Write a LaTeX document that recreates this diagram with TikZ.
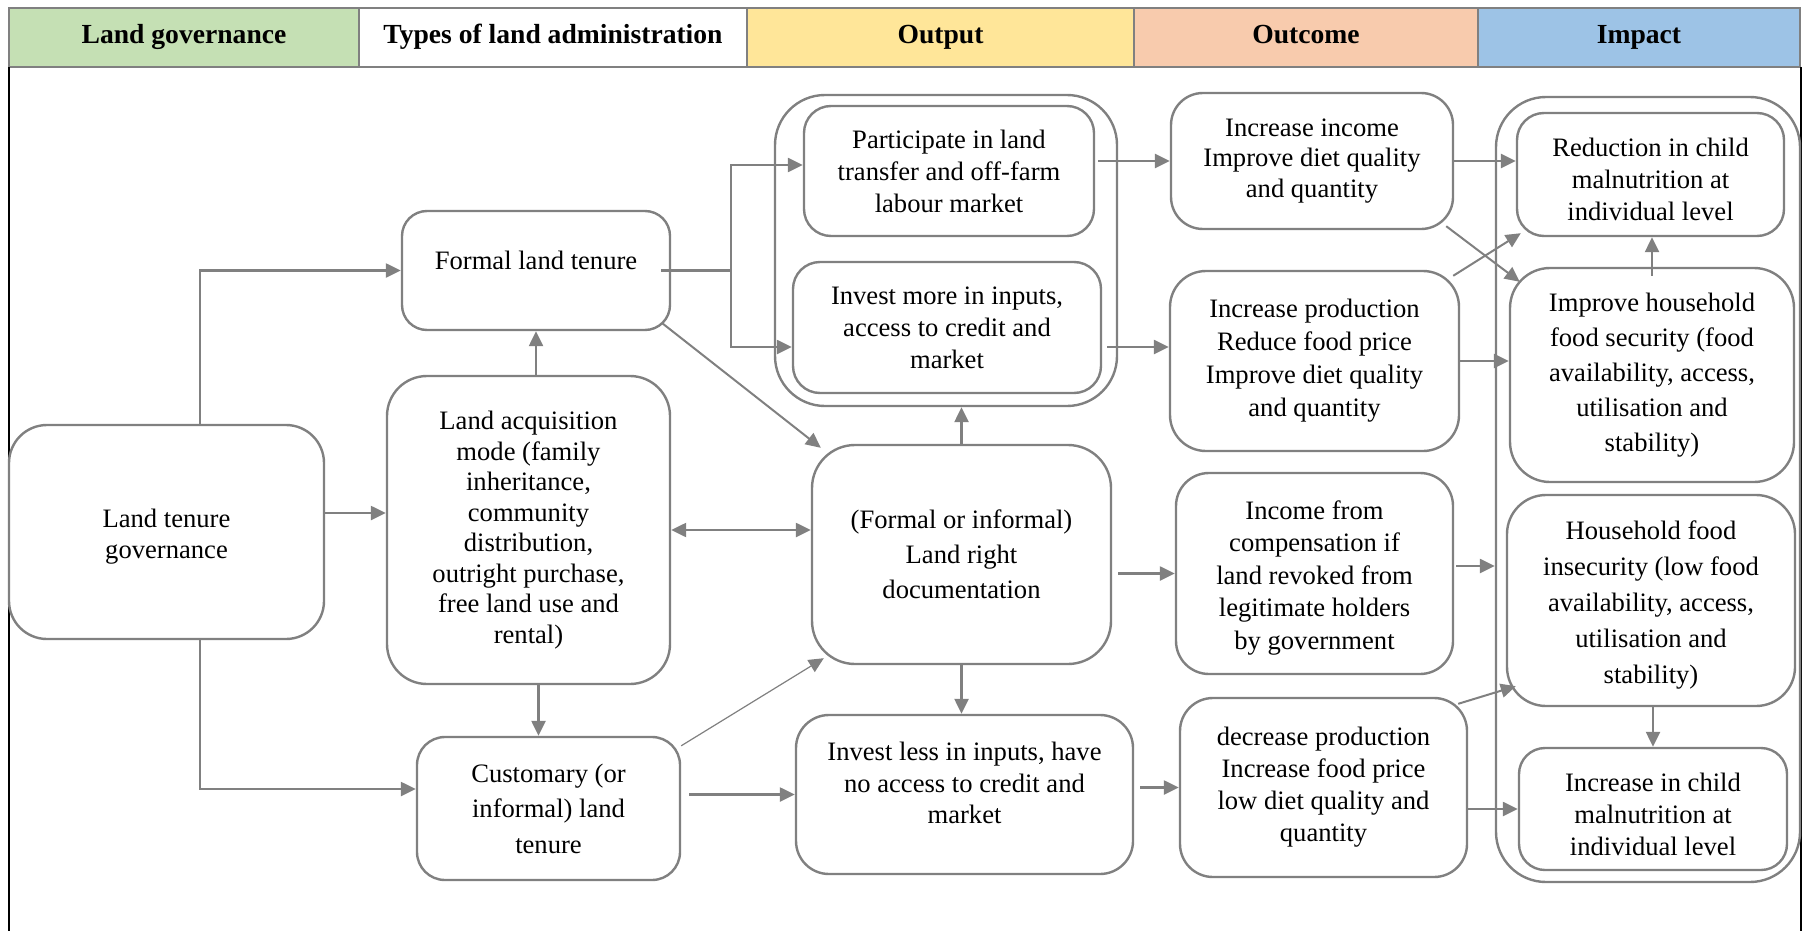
\documentclass[tikz,border=0pt]{standalone}
\usepackage{fontspec}
\setmainfont{Liberation Serif}
\usetikzlibrary{arrows.meta}
\definecolor{lineg}{HTML}{808080}
\definecolor{hdgreen}{HTML}{C5E0B4}
\definecolor{hdyellow}{HTML}{FFE699}
\definecolor{hdsalmon}{HTML}{F8CBAD}
\definecolor{hdblue}{HTML}{9DC3E6}
\tikzset{
  box/.style={draw=lineg, line width=1.2pt, rounded corners=14pt, align=center, inner sep=2pt, font=\fontsize{13.3}{16}\selectfont},
  grp/.style={draw=lineg, line width=1.2pt, rounded corners=25pt, inner sep=0pt},
  hd/.style={draw=black!50, line width=0.6pt, minimum height=29.5pt, inner sep=0pt, text height=9.5pt, text depth=3pt, font=\fontsize{13.8}{16}\selectfont\bfseries},
  arr/.style={draw=lineg, line width=1.2pt, ->},
  darr/.style={draw=lineg, line width=1.2pt, <->},
  link/.style={draw=lineg, line width=1.2pt},
}
\begin{document}
\begin{tikzpicture}[x=0.5pt, y=-0.5pt, >={Triangle[length=7.5pt,width=7pt]}]
        \useasboundingbox (0,0) rectangle (1803,931);
        \node[hd, fill=hdgreen, minimum width=175pt] (H1) at (184,37.5) {Land governance};
        \node[hd, fill=white, minimum width=194pt] (H2) at (553,37.5) {Types of land administration};
        \node[hd, fill=hdyellow, minimum width=193.5pt] (H3) at (940.5,37.5) {Output};
        \node[hd, fill=hdsalmon, minimum width=172pt] (H4) at (1306,37.5) {Outcome};
        \node[hd, fill=hdblue, minimum width=161pt] (H5) at (1639,37.5) {Impact};
        \draw[line width=1pt] (9,67) -- (9,931);
        \draw[line width=1pt] (1801,67) -- (1801,931);

        \node[grp, minimum width=171pt, minimum height=155.5pt] (OG) at (946,250.5) {};
        \node[grp, minimum width=152pt, minimum height=392.5pt] (IG) at (1648,489.5) {};

        \node[box, minimum width=157.5pt, minimum height=107pt, rounded corners=19pt, font=\fontsize{13.3}{15.2}\selectfont] (LT) at (166.5,532) {\mbox{}\\[-1.4pt]Land tenure\\governance};
        \node[box, minimum width=134pt, minimum height=59.5pt, rounded corners=12.5pt] (FT) at (536,270.5) {Formal land tenure\\[-5.5pt]\mbox{}};
        \node[box, minimum width=141.5pt, minimum height=154pt, rounded corners=20pt, font=\fontsize{13.3}{15.25}\selectfont] (AM) at (528.5,530) {Land acquisition\\mode (family\\inheritance,\\community\\distribution,\\outright purchase,\\free land use and\\rental)};
        \node[box, minimum width=131.5pt, minimum height=71.5pt, font=\fontsize{13.3}{17.75}\selectfont] (CT) at (548.5,808.5) {Customary (or\\informal) land\\tenure};

        \node[box, minimum width=145pt, minimum height=65pt, rounded corners=13.5pt] (PL) at (949,171) {Participate in land\\transfer and off-farm\\labour market};
        \node[box, minimum width=154pt, minimum height=65.5pt, rounded corners=13.5pt] (IM) at (947,327.5) {Invest more in inputs,\\access to credit and\\market};
        \node[box, minimum width=149.5pt, minimum height=109.5pt, rounded corners=21.5pt, font=\fontsize{13.3}{17.5}\selectfont] (LR) at (961.5,554.5) {(Formal or informal)\\Land right\\documentation};
        \node[box, minimum width=168.5pt, minimum height=79.5pt, rounded corners=16.5pt, font=\fontsize{13.3}{15.75}\selectfont] (IL) at (964.5,794.5) {Invest less in inputs, have\\no access to credit and\\market\\[-4.25pt]\mbox{}};

        \node[box, minimum width=141pt, minimum height=68pt, rounded corners=16pt, font=\fontsize{13.3}{15.25}\selectfont] (II) at (1312,161) {Increase income\\Improve diet quality\\and quantity};
        \node[box, minimum width=144.5pt, minimum height=90pt, rounded corners=18pt, font=\fontsize{13.3}{16.5}\selectfont] (IP) at (1314.5,361) {Increase production\\Reduce food price\\Improve diet quality\\and quantity};
        \node[box, minimum width=138.5pt, minimum height=100.5pt, rounded corners=16.5pt, font=\fontsize{13.3}{16.25}\selectfont] (IC) at (1314.5,573.5) {\mbox{}\\[-2.45pt]Income from\\compensation if\\land revoked from\\legitimate holders\\by government};
        \node[box, minimum width=143.5pt, minimum height=89.5pt, rounded corners=16.5pt] (DP) at (1323.5,787.5) {decrease production\\Increase food price\\low diet quality and\\quantity};

        \node[box, minimum width=133.5pt, minimum height=61.5pt, rounded corners=13.5pt] (RC) at (1650.5,174.5) {\mbox{}\\[-2.3pt]Reduction in child\\malnutrition at\\individual level};
        \node[box, minimum width=142pt, minimum height=107pt, rounded corners=20pt, font=\fontsize{13.3}{17.5}\selectfont] (IH) at (1652,375) {Improve household\\food security (food\\availability, access,\\utilisation and\\stability)};
        \node[box, minimum width=144pt, minimum height=105.5pt, rounded corners=19.5pt, font=\fontsize{13.3}{18}\selectfont] (HI) at (1651,600.5) {\mbox{}\\[-3.8pt]Household food\\insecurity (low food\\availability, access,\\utilisation and\\stability)};
        \node[box, minimum width=134pt, minimum height=61pt, rounded corners=13pt] (IN) at (1653,809) {\mbox{}\\[-1.8pt]Increase in child\\malnutrition at\\individual level};

        \coordinate (FB) at (731,270.5);
        \draw[arr] ([xshift=16.75pt]LT.north) |- (FT.west);
        \draw[arr] ([xshift=16.75pt]LT.south) |- ([yshift=9.75pt]CT.west);
        \draw[arr] ([yshift=9.5pt]LT.east) -- ([yshift=9.5pt]LT.east -| AM.west);
        \draw[arr] (FT.south |- AM.north) -- (FT.south);
        \draw[arr] ([xshift=5pt]AM.south) -- ([xshift=5pt]AM.south |- CT.north);
        \draw[darr] (AM.east) -- (AM.east -| LR.west);
        \draw[link] ([xshift=-5pt]FT.east) -- (FB);
        \draw[arr] (FB) |- ([yshift=3pt]PL.west);
        \draw[arr] (FB) |- ([yshift=-9.75pt]IM.west);
        \draw[arr, line width=1pt] ([xshift=-4.5pt,yshift=4pt]FT.south east) -- ([xshift=5pt,yshift=-2pt]LR.north west);
        \draw[arr, line width=0.6pt] ([yshift=-5pt]CT.north east) -- ([xshift=6.5pt,yshift=3.5pt]LR.south west);
        \draw[arr] ([xshift=4pt]CT.east |- IL.west) -- (IL.west);
        \draw[arr] (LR.north) -- (LR.north |- OG.south);
        \draw[arr] (LR.south) -- (LR.south |- IL.north);
        \draw[arr] ([xshift=3pt]LR.east |- IC.west) -- (IC.west);
        \draw[arr] ([xshift=1.5pt]PL.east |- II.west) -- (II.west);
        \draw[arr] ([xshift=2.5pt,yshift=-9.75pt]IM.east) -- ([yshift=-9.75pt]IM.east -| IP.west);
        \draw[arr] ([xshift=3pt]IL.east |- DP.west) -- (DP.west);
        \draw[arr] (II.east) -- (II.east -| RC.west);
        \draw[arr, line width=1pt] ([xshift=-4pt,yshift=2pt]II.south east) -- ([xshift=5.5pt,yshift=-7.5pt]IH.north west);
        \draw[arr, line width=1pt] ([xshift=-3.5pt,yshift=-3pt]IP.north east) -- ([xshift=2.5pt,yshift=2pt]RC.south west);
        \draw[arr] (IP.east) -- (IP.east -| IH.west);
        \draw[arr] ([yshift=-4.5pt]IH.north) -- (IH.north |- RC.south);
        \draw[arr] ([xshift=1pt,yshift=3.75pt]IC.east) -- ([yshift=3.75pt]IC.east -| IG.west);
        \draw[arr, line width=1pt] ([xshift=-5pt,yshift=-3.5pt]DP.north east) -- ([xshift=5pt,yshift=10.5pt]HI.south west);
        \draw[arr] (DP.east |- IN.west) -- (IN.west);
        \draw[arr] (IN.north |- HI.south) -- (IN.north);
\end{tikzpicture}
\end{document}
